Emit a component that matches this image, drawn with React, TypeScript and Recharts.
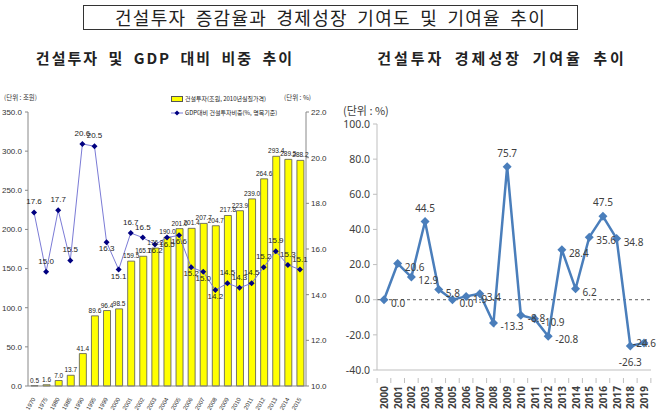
import React from "react";
import {
  Bar,
  ComposedChart,
  LabelList,
  Legend,
  Line,
  LineChart,
  ReferenceLine,
  XAxis,
  YAxis,
} from "recharts";

// left panel: construction investment (trillion won, 2010 prices) and share of GDP (%)
const investYears = [
  "1970", "1975", "1980", "1985", "1990", "1995", "1999", "2000", "2001", "2002", "2003", "2004",
  "2005", "2006", "2007", "2008", "2009", "2010", "2011", "2012", "2013", "2014", "2015",
];
const investAmount = [
  0.5, 1.6, 7.0, 13.7, 41.4, 89.6, 96.4, 98.5, 159.5, 165.7, 176.2, 190.0,
  201.0, 201.4, 207.7, 204.7, 217.8, 223.9, 239.0, 264.6, 293.4, 289.5, 288.2,
];
const gdpShare = [
  17.6, 15.0, 17.7, 15.5, 20.6, 20.5, 16.3, 15.1, 16.7, 16.5, 16.2, 16.5,
  16.6, 15.2, 15.0, 14.2, 14.5, 14.3, 14.5, 15.2, 15.9, 15.3, 15.1,
];
const amountTicks = [0, 50, 100, 150, 200, 250, 300, 350];
const shareTicks = [10, 12, 14, 16, 18, 20, 22];

// right panel: contribution of construction investment to growth (%)
const growthYears = [
  "2000", "2001", "2002", "2003", "2004", "2005", "2006", "2007", "2008", "2009",
  "2010", "2011", "2012", "2013", "2014", "2015", "2016", "2017", "2018", "2019",
];
const growthRate = [
  0.0, 20.6, 12.9, 44.5, 5.8, 0.0, 1.9, 3.4, -13.3, 75.7,
  -8.8, -10.9, -20.8, 28.4, 6.2, 35.6, 47.5, 34.8, -26.3, -24.6,
];
const rateTicks = [-40, -20, 0, 20, 40, 60, 80, 100];

// where each value label sits relative to its marker
const shareLabelSide = [
  "top", "top", "top", "top", "top", "top", "bottom", "bottom", "top", "top", "bottom", "bottom",
  "bottom", "bottom", "bottom", "bottom", "top", "top", "top", "top", "top", "top", "top",
];
const growthLabelSide = [
  "right", "right", "right", "top", "right", "right", "right", "right", "right", "top",
  "right", "right", "right", "right", "right", "right", "top", "right", "bottom", "over",
];

const leftData = investYears.map((year, i) => ({
  year,
  amount: investAmount[i],
  share: gdpShare[i],
}));
const rightData = growthYears.map((year, i) => ({ year, rate: growthRate[i] }));

const KR = "'Noto Sans CJK KR', 'Noto Sans', sans-serif";
const NARROW = "'Liberation Sans Narrow', 'Liberation Sans', sans-serif";

const Diamond = ({ cx, cy, size, fill }: any) => {
  if (cx == null || cy == null) return null;
  return (
    <polygon
      points={`${cx},${cy - size} ${cx + size},${cy} ${cx},${cy + size} ${cx - size},${cy}`}
      fill={fill}
    />
  );
};

const SlantTick = ({ x, y, payload }: any) => (
  <text
    x={x}
    y={y + 4}
    transform={`rotate(-60 ${x} ${y + 4})`}
    textAnchor="end"
    dominantBaseline="central"
    fontSize={6}
    fontFamily={NARROW}
    fill="#333"
  >
    {payload.value}
  </text>
);

const HALF_BAND = 6.87;

const VertTick = ({ x, y, payload, index }: any) => (
  <g>
    <line x1={x - HALF_BAND} x2={x - HALF_BAND} y1={y} y2={y + 5} stroke="#bfbfbf" />
    {index === growthYears.length - 1 && (
      <line x1={x + HALF_BAND} x2={x + HALF_BAND} y1={y} y2={y + 5} stroke="#bfbfbf" />
    )}
    <text
      x={x}
      y={y + 8}
      transform={`rotate(-90 ${x} ${y + 8})`}
      textAnchor="end"
      dominantBaseline="central"
      fontSize={10}
      fontWeight="bold"
      fontFamily="'Noto Sans', sans-serif"
      fill="#404040"
    >
      {payload.value}
    </text>
  </g>
);

const ShareLabel = ({ x, y, value, index }: any) => {
  const below = shareLabelSide[index] === "bottom";
  return (
    <text
      x={x}
      y={below ? y + 9 : y - 8}
      textAnchor="middle"
      fontSize={8}
      fontFamily={NARROW}
      fill="#222"
    >
      {Number(value).toFixed(1)}
    </text>
  );
};

const GrowthLabel = ({ x, y, value, index }: any) => {
  const side = growthLabelSide[index];
  let tx = x + 7;
  let ty = y + 7;
  let anchor = "start";
  if (side === "top") {
    tx = x;
    ty = y - 10;
    anchor = "middle";
  } else if (side === "bottom") {
    tx = x;
    ty = y + 20;
    anchor = "middle";
  } else if (side === "over") {
    // last point: text sits on top of its marker so it stays inside the frame
    tx = x + 12;
    ty = y + 4;
    anchor = "end";
  }
  return (
    <text x={tx} y={ty} textAnchor={anchor} fontSize={10} fontFamily="'Noto Sans', sans-serif" fill="#404040">
      {Number(value).toFixed(1)}
    </text>
  );
};

const LeftLegend = () => (
  <div style={{ fontFamily: KR, fontSize: 6, color: "#222", lineHeight: "14px" }}>
    <div style={{ display: "flex", alignItems: "center" }}>
      <span
        style={{
          display: "inline-block",
          width: 10,
          height: 4,
          background: "#ffff00",
          border: "1px solid #555",
          marginRight: 2,
        }}
      />
      건설투자(조원, 2010년실질가격)
    </div>
    <div style={{ display: "flex", alignItems: "center" }}>
      <svg width={12} height={6} style={{ marginRight: 2 }}>
        <line x1={0} x2={12} y1={3} y2={3} stroke="#7b7bd6" strokeWidth={1} />
        <Diamond cx={6} cy={3} size={2.5} fill="#000080" />
      </svg>
      GDP대비 건설투자비중(%, 명목기준)
    </div>
  </div>
);

export default function App() {
  return (
    <div
      style={{
        position: "absolute",
        left: 0,
        top: 0,
        width: 658,
        height: 415,
        background: "#fff",
        overflow: "hidden",
        fontFamily: KR,
      }}
    >
      <div
        style={{
          position: "absolute",
          left: 83,
          top: 5,
          width: 493,
          height: 23,
          border: "1.5px solid #333",
          textAlign: "center",
          fontSize: 18,
          lineHeight: "23px",
          letterSpacing: 1.3,
          wordSpacing: 4,
          color: "#222",
        }}
      >
        건설투자 증감율과 경제성장 기여도 및 기여율 추이
      </div>

      <div
        style={{
          position: "absolute",
          left: 33,
          top: 47,
          width: 264,
          textAlign: "center",
          fontSize: 15,
          fontWeight: "bold",
          letterSpacing: 2,
          wordSpacing: 4,
          color: "#222",
          whiteSpace: "nowrap",
        }}
      >
        건설투자 및 GDP 대비 비중 추이
      </div>
      <div
        style={{
          position: "absolute",
          left: 376,
          top: 47,
          width: 252,
          textAlign: "center",
          fontSize: 15,
          fontWeight: "bold",
          letterSpacing: 3,
          wordSpacing: 4,
          color: "#222",
          whiteSpace: "nowrap",
        }}
      >
        건설투자 경제성장 기여율 추이
      </div>

      <div style={{ position: "absolute", left: 4, top: 92, fontSize: 6.5, color: "#333" }}>(단위 : 조원)</div>
      <div style={{ position: "absolute", left: 284, top: 92, fontSize: 6.5, color: "#333" }}>(단위 : %)</div>

      <div style={{ position: "absolute", left: 0, top: 90 }}>
        <ComposedChart
          width={335}
          height={325}
          data={leftData}
          margin={{ top: 22, right: 0, bottom: 0, left: 0 }}
          barSize={7}
        >
          <XAxis
            dataKey="year"
            height={29}
            interval={0}
            tick={<SlantTick />}
            tickLine={false}
            axisLine={{ stroke: "#888" }}
          />
          <YAxis
            yAxisId="amount"
            width={28}
            domain={[0, 350]}
            ticks={amountTicks}
            tickFormatter={(v: number) => v.toFixed(1)}
            tick={{ fontSize: 8, fontFamily: NARROW, fill: "#333" }}
            tickSize={3}
            tickMargin={3}
            axisLine={{ stroke: "#888" }}
            tickLine={{ stroke: "#888" }}
          />
          <YAxis
            yAxisId="share"
            orientation="right"
            width={29}
            domain={[10, 22]}
            ticks={shareTicks}
            tickFormatter={(v: number) => v.toFixed(1)}
            tick={{ fontSize: 8, fontFamily: NARROW, fill: "#333" }}
            tickSize={3}
            tickMargin={2}
            axisLine={{ stroke: "#888" }}
            tickLine={{ stroke: "#888" }}
          />
          <Bar
            yAxisId="amount"
            dataKey="amount"
            fill="#ffff00"
            stroke="#555"
            strokeWidth={0.8}
            isAnimationActive={false}
          >
            <LabelList
              dataKey="amount"
              position="top"
              offset={3}
              formatter={(v: number) => v.toFixed(1)}
              style={{ fontSize: 6.5, fontFamily: NARROW, fill: "#222" }}
            />
          </Bar>
          <Line
            yAxisId="share"
            dataKey="share"
            stroke="#7b7bd6"
            strokeWidth={1}
            dot={(p: any) => <Diamond key={p.index} cx={p.cx} cy={p.cy} size={3} fill="#000080" />}
            activeDot={false}
            isAnimationActive={false}
          >
            <LabelList dataKey="share" content={<ShareLabel />} />
          </Line>
          <Legend
            layout="vertical"
            align="center"
            verticalAlign="middle"
            content={<LeftLegend />}
            wrapperStyle={{ left: 171, top: 2, width: 120 }}
          />
        </ComposedChart>
      </div>

      <div style={{ position: "absolute", left: 343, top: 102, fontSize: 11, color: "#404040" }}>(단위 : %)</div>

      <div style={{ position: "absolute", left: 330, top: 90 }}>
        <LineChart
          width={328}
          height={325}
          data={rightData}
          margin={{ top: 34, right: 7, bottom: 0, left: 0 }}
        >
          <XAxis
            dataKey="year"
            height={45}
            interval={0}
            padding={{ left: 7, right: 7 }}
            tick={<VertTick />}
            tickLine={false}
            axisLine={{ stroke: "#bfbfbf" }}
          />
          <YAxis
            width={47}
            domain={[-40, 100]}
            ticks={rateTicks}
            tickFormatter={(v: number) => v.toFixed(1)}
            tick={{ fontSize: 10.5, fontFamily: "'Noto Sans', sans-serif", fill: "#404040" }}
            tickSize={4}
            tickMargin={3}
            axisLine={{ stroke: "#bfbfbf" }}
            tickLine={{ stroke: "#bfbfbf" }}
          />
          <ReferenceLine y={0} stroke="#595959" strokeDasharray="3 3" />
          <Line
            dataKey="rate"
            stroke="#4a7ebb"
            strokeWidth={2.5}
            dot={(p: any) => <Diamond key={p.index} cx={p.cx} cy={p.cy} size={4.5} fill="#4a7ebb" />}
            activeDot={false}
            isAnimationActive={false}
          >
            <LabelList dataKey="rate" content={<GrowthLabel />} />
          </Line>
        </LineChart>
      </div>
    </div>
  );
}
